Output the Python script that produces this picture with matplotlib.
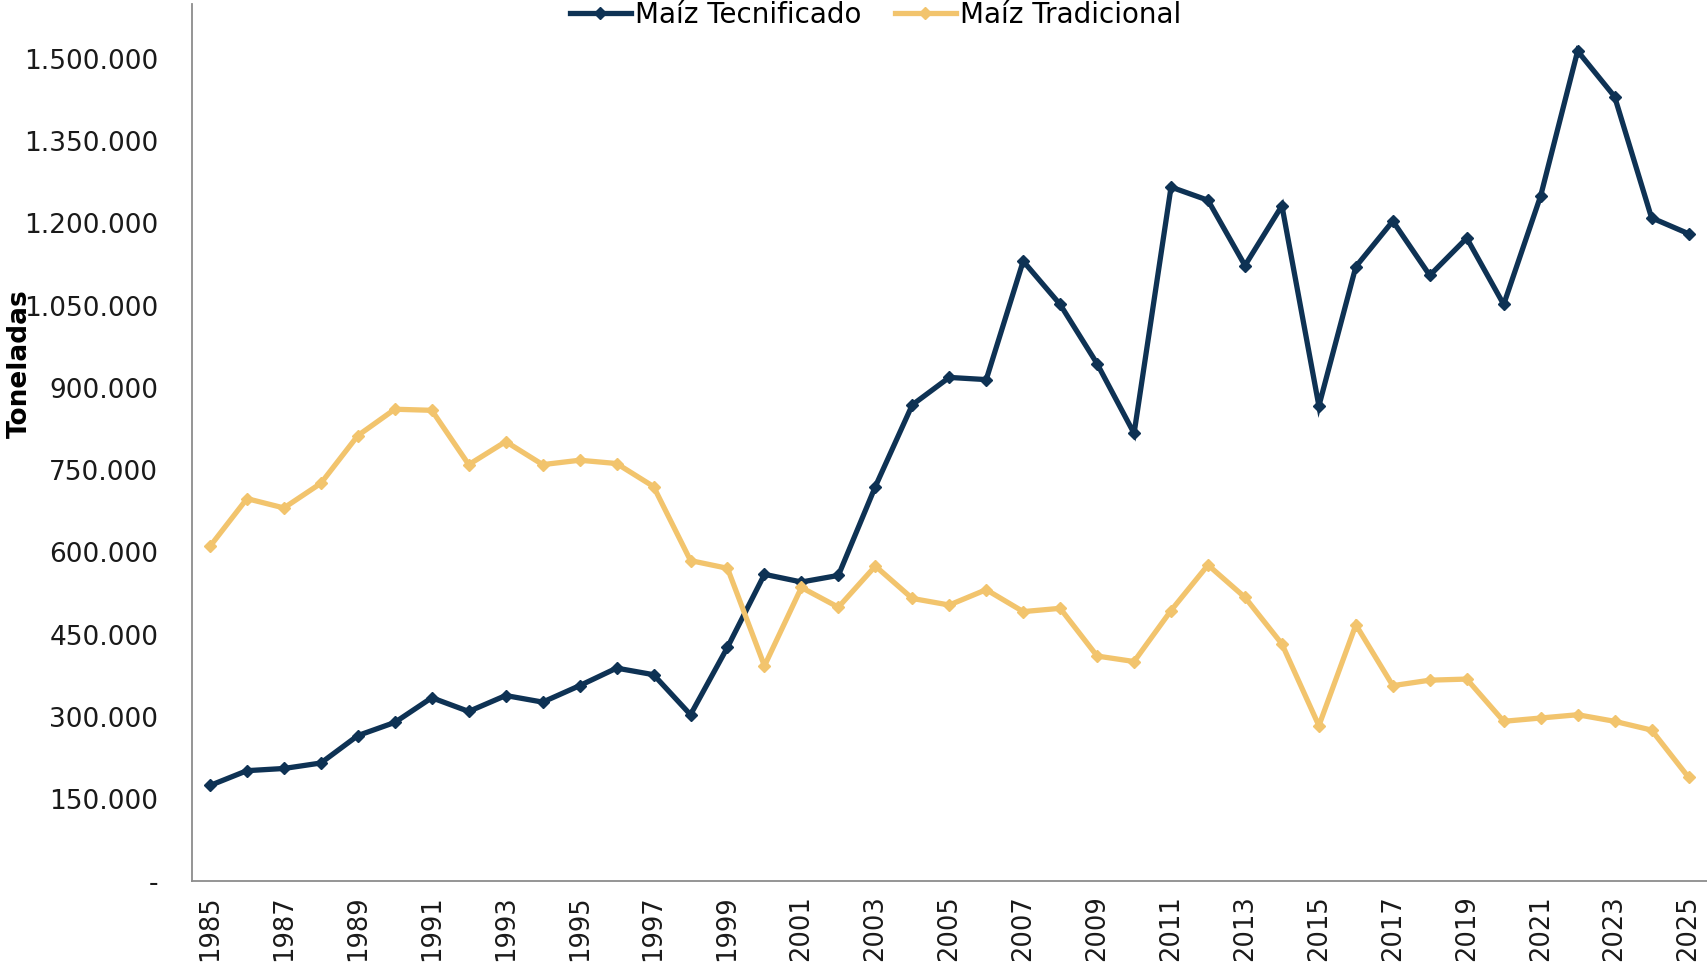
import matplotlib
matplotlib.use("Agg")
import matplotlib.pyplot as plt
from matplotlib.ticker import FuncFormatter, MultipleLocator

years = list(range(1985, 2026))
tecnificado = [175000, 202000, 206000, 216000, 266000, 290000, 335000, 310000, 339000, 327000,
               357000, 389000, 377000, 304000, 427000, 560000, 546000, 558000, 720000, 869000,
               919000, 915000, 1131000, 1052000, 944000, 817000, 1266000, 1242000, 1123000, 1232000,
               867000, 1121000, 1204000, 1105000, 1173000, 1052000, 1250000, 1514000, 1431000, 1210000,
               1181000]
tradicional = [611000, 698000, 681000, 726000, 813000, 861000, 859000, 760000, 802000, 760000,
               768000, 762000, 720000, 585000, 571000, 393000, 536000, 500000, 575000, 516000,
               504000, 532000, 492000, 498000, 411000, 401000, 494000, 577000, 518000, 433000,
               284000, 468000, 357000, 367000, 369000, 292000, 298000, 304000, 292000, 276000,
               190000]
series_names = ["Maíz Tecnificado", "Maíz Tradicional"]
colors = ["#0E3254", "#F2C46D"]
y_label = "Toneladas"

plt.rcParams['font.family'] = ['DejaVu Sans']

fig = plt.figure(figsize=(17.07, 9.74), dpi=100)
ax = fig.add_axes([0.1122, 0.095, 0.8878, 0.901])

for vals, name, c in zip([tecnificado, tradicional], series_names, colors):
    ax.plot(years, vals, color=c, lw=3.8, marker='D', markersize=6.5, label=name,
            solid_joinstyle='miter')

ax.set_xlim(1984.5, 2025.5)
ax.set_ylim(0, 1600000)
ax.yaxis.set_major_locator(MultipleLocator(150000))

def fmt(v, pos):
    if abs(v) < 1:
        return "-"
    return f"{int(round(v)):,}".replace(",", ".")

ax.yaxis.set_major_formatter(FuncFormatter(fmt))
ax.set_xticks(years[::2])
ax.set_xticklabels([str(y) for y in years[::2]], rotation=90)
ax.tick_params(axis='y', length=0, labelsize=19, colors='#1a1a1a', pad=24)
ax.tick_params(axis='x', length=0, labelsize=18.5, colors='#1a1a1a', pad=10)

for s in ['top', 'right']:
    ax.spines[s].set_visible(False)
for s in ['left', 'bottom']:
    ax.spines[s].set_color('#8c8c8c')
    ax.spines[s].set_linewidth(1.3)

ax.set_ylabel(y_label, fontsize=19, fontweight='bold')
ax.yaxis.set_label_coords(-0.1045, 0.59)

fig.legend(loc='upper center', bbox_to_anchor=(0.513, 1.025), ncol=2, frameon=False,
           fontsize=20, handlelength=2.2, handletextpad=0.15, columnspacing=1.2)

fig.savefig("out.png", dpi=100)
